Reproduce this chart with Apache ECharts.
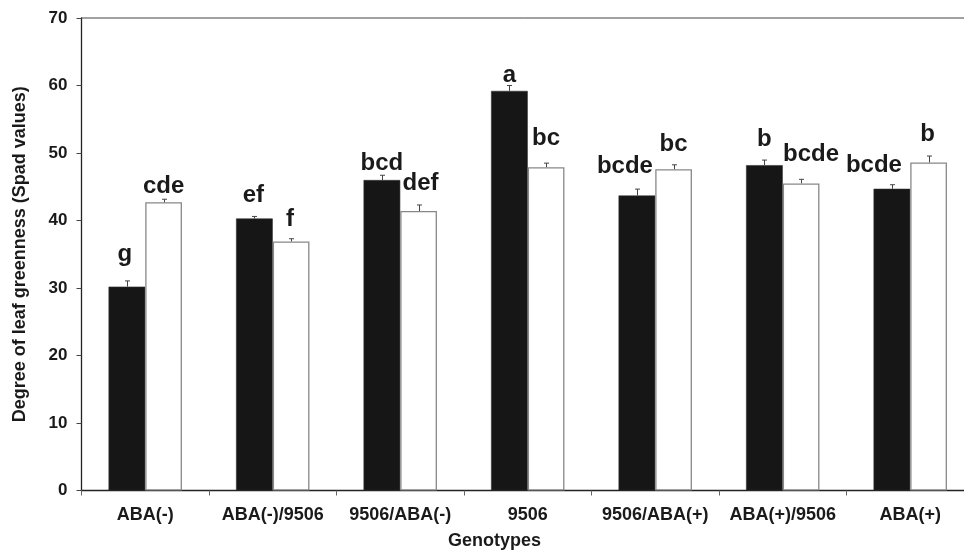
<!DOCTYPE html>
<html>
<head>
<meta charset="utf-8">
<script src="https://cdn.jsdelivr.net/npm/echarts@6/dist/echarts.min.js"></script>
<style>
html,body{margin:0;padding:0;background:#fff;}
#chart{width:964px;height:552px;}
</style>
</head>
<body>
<div id="chart"></div>
<script>
// ---- data ----
const categories = ['ABA(-)', 'ABA(-)/9506', '9506/ABA(-)', '9506', '9506/ABA(+)', 'ABA(+)/9506', 'ABA(+)'];
const blackValues = [30.2, 40.3, 46.0, 59.2, 43.7, 48.2, 44.7];
const blackErrors = [0.85, 0.3, 0.7, 0.8, 0.95, 0.75, 0.6];
const whiteValues = [42.7, 36.9, 41.4, 47.9, 47.6, 45.5, 48.6];
const whiteErrors = [0.45, 0.4, 0.9, 0.6, 0.65, 0.6, 0.95];
const blackLetters = ['g', 'ef', 'bcd', 'a', 'bcde', 'b', 'bcde'];
const whiteLetters = ['cde', 'f', 'def', 'bc', 'bc', 'bcde', 'b'];
const yTicks = [0, 10, 20, 30, 40, 50, 60, 70];

// ---- label nudges (style only) ----
const blackLabelDist = [20.3, 11, 4.3, 3.6, 16.7, 13.6, 11.6];
const blackLabelDx = [-2, -1, 0, 0, -12, 0, -18];
const whiteLabelDist = [3.7, 10.3, 15.6, 16.7, 13, 17, 16];
const whiteLabelDx = [0, -1, 2, 0, 0, 10, -1];

const BAR_W = 36.7;
const FONT = '"Liberation Sans", Arial, Helvetica, sans-serif';

function barData(values, dist, dx, letters) {
  return values.map((v, i) => ({
    value: v,
    label: { show: true, position: 'top', distance: dist[i], offset: [dx[i], 0], formatter: letters[i] }
  }));
}

function errorSeries(values, errors, offset) {
  return {
    type: 'custom',
    silent: true,
    z: 5,
    data: values.map((v, i) => [i, v, v + errors[i]]),
    renderItem: function (params, api) {
      const lo = api.coord([api.value(0), api.value(1)]);
      const hi = api.coord([api.value(0), api.value(2)]);
      const x = Math.round(lo[0] + offset) + 0.5;
      const cap = 2.5;
      const style = { stroke: '#444', lineWidth: 1 };
      return {
        type: 'group',
        children: [
          { type: 'line', shape: { x1: x, y1: lo[1], x2: x, y2: hi[1] }, style: style },
          { type: 'line', shape: { x1: x - cap, y1: hi[1], x2: x + cap, y2: hi[1] }, style: style }
        ]
      };
    }
  };
}

const labelStyle = { fontFamily: FONT, fontWeight: 'bold', fontSize: 24, color: '#1a1a1a' };

const option = {
  animation: false,
  backgroundColor: '#fff',
  grid: {
    left: 81.5, top: 18, width: 892.5, height: 472.5,
    outerBoundsMode: 'none',
    containLabel: false,
    show: true, borderColor: '#444', borderWidth: 1, backgroundColor: 'transparent'
  },
  xAxis: {
    type: 'category',
    data: categories,
    axisLine: { lineStyle: { color: '#222', width: 1.3 } },
    axisTick: { show: true, length: 5, alignWithLabel: false, lineStyle: { color: '#666' } },
    axisLabel: { fontFamily: FONT, fontWeight: 'bold', fontSize: 18, color: '#1a1a1a', margin: 16, interval: 0 },
    splitLine: { show: false }
  },
  yAxis: {
    type: 'value',
    min: 0, max: 70, interval: 10,
    name: 'Degree of leaf greenness (Spad values)',
    nameLocation: 'middle',
    nameGap: 52,
    nameMoveOverlap: false,
    nameTextStyle: { fontFamily: FONT, fontWeight: 'bold', fontSize: 18, color: '#1a1a1a' },
    axisLine: { show: true, lineStyle: { color: '#222', width: 1.3 } },
    axisTick: { show: true, length: 5, lineStyle: { color: '#444' } },
    axisLabel: {
      fontFamily: FONT, fontWeight: 'bold', fontSize: 17, color: '#1a1a1a', margin: 14,
      formatter: v => (yTicks.indexOf(v) >= 0 ? String(v) : '')
    },
    splitLine: { show: false }
  },
  graphic: [{
    type: 'text',
    left: 448, top: 532,
    style: { text: 'Genotypes', font: 'bold 18px ' + FONT, fill: '#1a1a1a' }
  }],
  series: [
    {
      type: 'bar',
      barWidth: BAR_W,
      barGap: '0%',
      itemStyle: { color: '#161616', borderColor: '#333', borderWidth: 0.6 },
      label: labelStyle,
      data: barData(blackValues, blackLabelDist, blackLabelDx, blackLetters)
    },
    {
      type: 'bar',
      barWidth: BAR_W,
      barGap: '0%',
      itemStyle: { color: '#ffffff', borderColor: '#888', borderWidth: 1.3 },
      label: labelStyle,
      data: barData(whiteValues, whiteLabelDist, whiteLabelDx, whiteLetters)
    },
    errorSeries(blackValues, blackErrors, -BAR_W / 2),
    errorSeries(whiteValues, whiteErrors, BAR_W / 2)
  ]
};

const chart = echarts.init(document.getElementById('chart'), null, { renderer: 'canvas' });
chart.setOption(option);
</script>
</body>
</html>
